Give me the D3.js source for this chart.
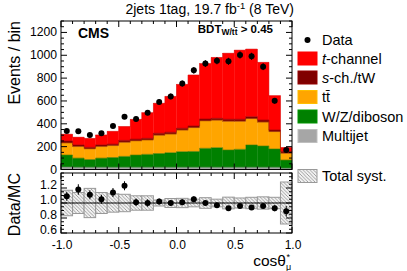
<!DOCTYPE html>
<html><head><meta charset="utf-8">
<script src="https://cdn.jsdelivr.net/npm/d3@7"></script>
<style>
html,body{margin:0;padding:0;background:#fff;}
svg{display:block;font-family:"Liberation Sans",Arial,Helvetica,sans-serif;}
</style></head>
<body><svg id="c" width="407" height="271"></svg>
<script>
// ---- data ----
const binEdges = [-1.0,-0.9,-0.8,-0.7,-0.6,-0.5,-0.4,-0.3,-0.2,-0.1,0.0,0.1,0.2,0.3,0.4,0.5,0.6,0.7,0.8,0.9,1.0];
const multijet = [22,20,20,20,20,20,20,20,20,20,20,20,20,20,20,20,20,20,20,12];
const wzDiboson = [105,80,67,80,85,95,107,113,120,127,136,138,166,171,151,157,195,186,160,71];
const ttbar = [105,100,93,100,103,123,123,125,160,163,189,207,239,241,251,245,229,209,150,59];
const sChTW = [18,15,14,15,14,17,16,15,17,16,16,16,17,16,18,18,18,18,16,16];
const tChannel = [59,68,78,87,112,121,173,224,263,314,384,446,485,533,578,605,592,505,300,34];
const dataVals = [337,334,302,317,381,462,443,497,592,640,752,868,927,952,947,1003,991,900,601,171];
const dataErr = [18,18,17,18,20,21,21,22,24,25,27,29,30,31,31,32,31,30,25,13];
const ratioVals = [1.09,1.18,1.11,1.05,1.14,1.23,1.01,1.0,1.02,1.0,1.01,1.05,1.0,0.97,0.93,0.96,0.94,0.96,0.93,0.89];
const ratioErr = [0.06,0.07,0.06,0.06,0.06,0.06,0.05,0.05,0.04,0.04,0.04,0.04,0.03,0.03,0.03,0.03,0.03,0.03,0.04,0.07];
const systHalf = [0.17,0.14,0.195,0.14,0.122,0.116,0.096,0.096,0.04,0.06,0.062,0.051,0.071,0.051,0.078,0.067,0.076,0.082,0.076,0.28];
const yTicksMain = [0,200,400,600,800,1000,1200];
const yTicksRatio = [0.6,0.8,1.0,1.2];
const xTicks = [-1.0,-0.5,0.0,0.5,1.0];

const layerKeys = ["multijet","wz","tt","sch","tch"];
const layerColors = {multijet:"#a6a6a6", wz:"#008000", tt:"#ffa500", sch:"#800000", tch:"#ff0000"};

// ---- layout ----
const L=61, R=292, mainTop=21, mainBot=169.5, rTop=173, rBot=233;
const svg = d3.select("#c");
const defs = svg.append("defs");
const pat = defs.append("pattern").attr("id","hatch").attr("patternUnits","userSpaceOnUse")
  .attr("width",3.5).attr("height",3.5);
pat.append("rect").attr("width",3.5).attr("height",3.5).attr("fill","#f2f2f2");
pat.append("path").attr("d","M-1,-1L4.5,4.5M-1,2.5L1,4.5M2.5,-1L4.5,1").attr("stroke","#8a8a8a").attr("stroke-width",0.8);

const x = d3.scaleLinear().domain([-1,1]).range([L,R]);
const y = d3.scaleLinear().domain([0,1300]).range([mainBot,mainTop]);
const yr = d3.scaleLinear().domain([0.6,1.4]).range([rBot,rTop]);

const rows = multijet.map((_,i)=>({multijet:multijet[i], wz:wzDiboson[i], tt:ttbar[i], sch:sChTW[i], tch:tChannel[i]}));
const series = d3.stack().keys(layerKeys)(rows);

const gMain = svg.append("g");
series.forEach(s=>{
  gMain.append("g").selectAll("rect").data(s).join("rect")
    .attr("x",(d,i)=>x(binEdges[i]))
    .attr("width",(d,i)=>x(binEdges[i+1])-x(binEdges[i]))
    .attr("y",d=>y(d[1]))
    .attr("height",d=>y(d[0])-y(d[1]))
    .attr("fill",layerColors[s.key])
    .attr("stroke",layerColors[s.key]).attr("stroke-width",0.3);
});
series.forEach(s=>{
  const c = d3.color(layerColors[s.key]).darker(0.6);
  let p = "";
  s.forEach((d,i)=>{ p += (i===0?"M":"L")+x(binEdges[i])+","+y(d[1])+"L"+x(binEdges[i+1])+","+y(d[1]); });
  gMain.append("path").attr("d",p).attr("fill","none").attr("stroke",c).attr("stroke-width",0.6).attr("opacity",0.7);
});

// data points
const centers = binEdges.slice(0,-1).map((e,i)=>(e+binEdges[i+1])/2);
const gData = svg.append("g");
gData.selectAll("line").data(dataVals).join("line")
  .attr("x1",(d,i)=>x(centers[i])).attr("x2",(d,i)=>x(centers[i]))
  .attr("y1",(d,i)=>y(d-dataErr[i])).attr("y2",(d,i)=>y(d+dataErr[i]))
  .attr("stroke","#000").attr("stroke-width",1);
gData.selectAll("circle").data(dataVals).join("circle")
  .attr("cx",(d,i)=>x(centers[i])).attr("cy",d=>y(d)).attr("r",3).attr("fill","#000");

function frame(yScale, top, bot, yMajor, yMinorStep, showXLabels, yFmt, yDy){
  const g = svg.append("g");
  const xMinor = d3.range(-1,1.0001,0.1);
  xMinor.forEach(v=>{
    const major = xTicks.some(t=>Math.abs(t-v)<1e-6);
    const len = major?6:3;
    g.append("line").attr("x1",x(v)).attr("x2",x(v)).attr("y1",bot).attr("y2",bot-len).attr("stroke","#000");
    g.append("line").attr("x1",x(v)).attr("x2",x(v)).attr("y1",top).attr("y2",top+len).attr("stroke","#000");
  });
  const [d0,d1] = yScale.domain();
  d3.range(d0, d1+1e-9, yMinorStep).forEach(v=>{
    const major = yMajor.some(t=>Math.abs(t-v)<1e-6);
    const len = major?6:3;
    g.append("line").attr("x1",L).attr("x2",L+len).attr("y1",yScale(v)).attr("y2",yScale(v)).attr("stroke","#000");
    g.append("line").attr("x1",R).attr("x2",R-len).attr("y1",yScale(v)).attr("y2",yScale(v)).attr("stroke","#000");
  });
  g.append("rect").attr("x",L).attr("y",top).attr("width",R-L).attr("height",bot-top)
    .attr("fill","none").attr("stroke","#000").attr("stroke-width",1);
  g.selectAll("text.yl").data(yMajor).join("text").attr("class","yl")
    .attr("x",L-4).attr("y",d=>yScale(d)).attr("dy",yDy).attr("text-anchor","end")
    .attr("font-size","12.2px").text(yFmt);
  if(showXLabels){
    g.selectAll("text.xl").data(xTicks).join("text").attr("class","xl")
      .attr("x",d=>x(d)+1).attr("y",bot+15.5).attr("text-anchor","middle")
      .attr("font-size","12px").text(d=>d3.format(".1f")(d).replace("−","-"));
  }
}
frame(y, mainTop, mainBot, yTicksMain, 50, false, d=>d, "0.33em");

// ratio panel
const gR = svg.append("g");
gR.selectAll("rect").data(systHalf).join("rect")
  .attr("x",(d,i)=>x(binEdges[i])).attr("width",(d,i)=>x(binEdges[i+1])-x(binEdges[i]))
  .attr("y",d=>yr(1+d)).attr("height",d=>yr(1-d)-yr(1+d))
  .attr("fill","url(#hatch)").attr("stroke","#999").attr("stroke-width",1);
gR.append("line").attr("x1",L).attr("x2",R).attr("y1",yr(1)).attr("y2",yr(1)).attr("stroke","#000").attr("stroke-width",1);
gR.selectAll("line.e").data(ratioVals).join("line").attr("class","e")
  .attr("x1",(d,i)=>x(centers[i])).attr("x2",(d,i)=>x(centers[i]))
  .attr("y1",(d,i)=>yr(d-ratioErr[i])).attr("y2",(d,i)=>yr(d+ratioErr[i]))
  .attr("stroke","#000");
gR.selectAll("circle").data(ratioVals).join("circle")
  .attr("cx",(d,i)=>x(centers[i])).attr("cy",d=>yr(d)).attr("r",3).attr("fill","#000");
frame(yr, rTop, rBot, yTicksRatio, 0.05, true, d=>d3.format(".1f")(d), "0.12em");

// ---- texts ----
svg.append("text").attr("x",294).attr("y",14).attr("text-anchor","end").attr("font-size","14px")
  .html('2jets 1tag, 19.7 fb<tspan dy="-5" font-size="9.5px">-1</tspan><tspan dy="5"> (8 TeV)</tspan>');
svg.append("text").attr("x",78).attr("y",38).attr("font-size","14px").attr("font-weight","bold").text("CMS");
svg.append("text").attr("x",273).attr("y",33).attr("text-anchor","end").attr("font-size","11.5px").attr("font-weight","bold")
  .html('BDT<tspan dy="2" font-size="8.5px">W/t\u0074\u0304</tspan><tspan dy="-2"> &gt; 0.45</tspan>');
svg.append("text").attr("transform","translate(20,21) rotate(-90)").attr("text-anchor","end").attr("font-size","16px").text("Events / bin");
svg.append("text").attr("transform","translate(20,173) rotate(-90)").attr("text-anchor","end").attr("font-size","16px").text("Data/MC");
svg.append("text").attr("x",R-6).attr("y",265.5).attr("text-anchor","end").attr("font-size","15.5px").text("cosθ");
svg.append("text").attr("x",R-5.5).attr("y",259.5).attr("font-size","9px").text("*");
svg.append("text").attr("x",R-6).attr("y",269.5).attr("font-size","9px").text("μ");

// ---- legend ----
const legX=298, legTX=322;
const legItems = [
  {key:"tch", y:58.5, html:'<tspan font-style="italic">t</tspan>-channel'},
  {key:"sch", y:77.5, html:'<tspan font-style="italic">s</tspan>-ch./tW'},
  {key:"tt", y:97, html:'tt\u0304'},
  {key:"wz", y:116.5, html:'W/Z/diboson'},
  {key:"multijet", y:136, html:'Multijet'}
];
const gL = svg.append("g");
gL.append("circle").attr("cx",legX+9.5).attr("cy",40).attr("r",3).attr("fill","#000");
gL.append("text").attr("x",legTX).attr("y",40).attr("dy","0.36em").attr("font-size","14.5px").text("Data");
legItems.forEach(it=>{
  gL.append("rect").attr("x",legX).attr("y",it.y-6.5).attr("width",19).attr("height",13)
    .attr("fill",layerColors[it.key]).attr("stroke",d3.color(layerColors[it.key]).brighter(0.4)).attr("stroke-width",1);
  gL.append("text").attr("x",legTX).attr("y",it.y).attr("dy","0.36em").attr("font-size","14.5px").html(it.html);
});
gL.append("rect").attr("x",legX).attr("y",176-6.5).attr("width",19).attr("height",13)
  .attr("fill","url(#hatch)").attr("stroke","#999");
gL.append("text").attr("x",legTX).attr("y",176).attr("dy","0.36em").attr("font-size","14.5px").text("Total syst.");
</script></body></html>
